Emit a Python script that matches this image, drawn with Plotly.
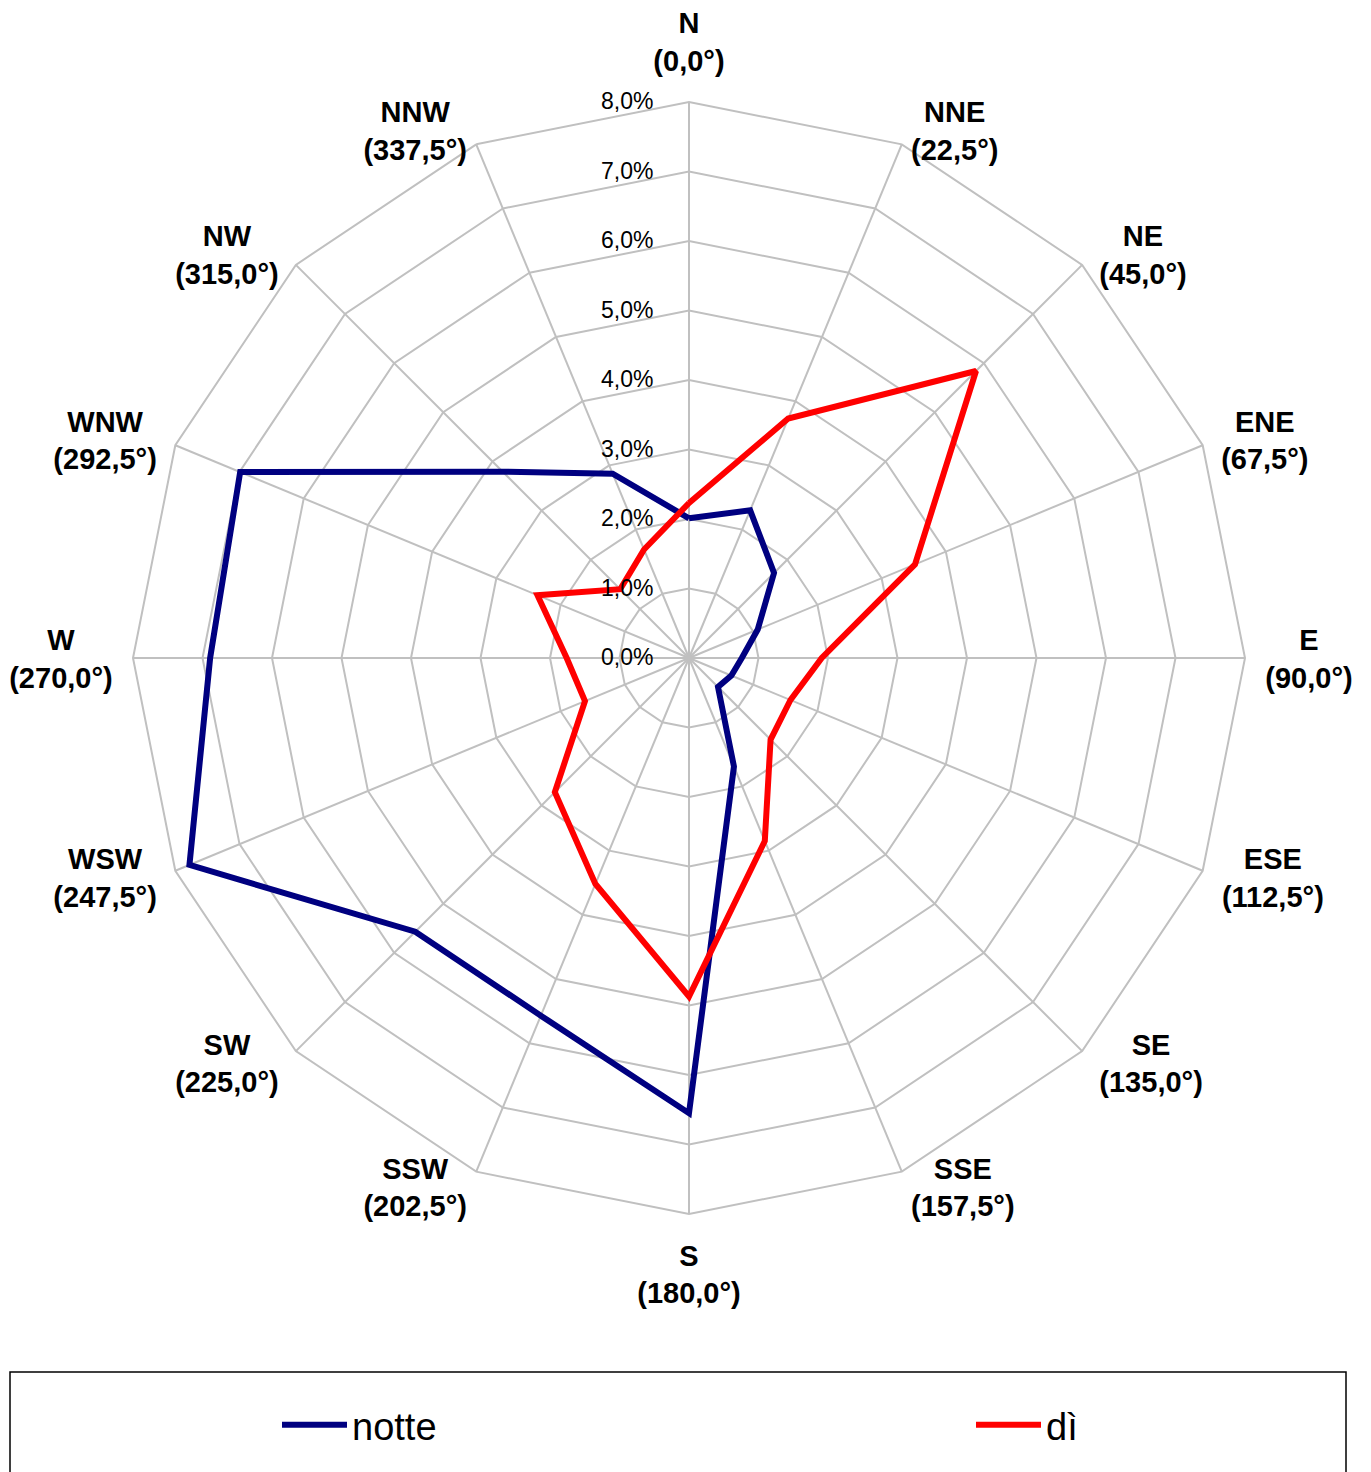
import math
import plotly.graph_objects as go

directions = ["N", "NNE", "NE", "ENE", "E", "ESE", "SE", "SSE",
              "S", "SSW", "SW", "WSW", "W", "WNW", "NW", "NNW"]
angles = [0.0, 22.5, 45.0, 67.5, 90.0, 112.5, 135.0, 157.5,
          180.0, 202.5, 225.0, 247.5, 270.0, 292.5, 315.0, 337.5]
notte = [2.01, 2.30, 1.73, 1.07, 0.76, 0.66, 0.59, 1.69,
         6.55, 5.57, 5.57, 7.78, 6.89, 6.99, 3.79, 2.87]
di = [2.23, 3.73, 5.84, 3.52, 1.91, 1.58, 1.66, 2.85,
      4.87, 3.52, 2.73, 1.62, 1.76, 2.36, 1.40, 1.69]
radial_ticks = [0, 1, 2, 3, 4, 5, 6, 7, 8]
radial_ticktext = ["0,0%", "1,0%", "2,0%", "3,0%", "4,0%", "5,0%", "6,0%", "7,0%", "8,0%"]

W, H = 1371, 1472
OFF = 8  # page body margin
cx, cy, R = 689 - OFF, 658 - OFF, 556
RMAX = 8.0
K = R / RMAX  # px per radial unit
RMAX2 = 9.3   # wider invisible polar holding the direction labels
R2 = K * RMAX2

LABEL_FS = 29
line2 = ["(%s°)" % ("%.1f" % a).replace(".", ",") for a in angles]
angle_text = ["<b>%s<br>%s</b>" % (d, l2) for d, l2 in zip(directions, line2)]

# approximate bold glyph widths (em) to centre the two-line labels next to each vertex
CW = {"N": 0.722, "E": 0.667, "S": 0.667, "W": 0.944, "(": 0.333, ")": 0.333,
      ",": 0.278, "°": 0.4}
def text_w(s):
    return sum(CW.get(ch, 0.556) for ch in s) * LABEL_FS

ANCHOR = 8.35
HALF_H_TOP, HALF_H_BOTTOM = 33.0, 39.0
lab_r, lab_t = [], []
for d, l2, a in zip(directions, line2, angles):
    s, c = math.sin(math.radians(a)), math.cos(math.radians(a))
    x, y = ANCHOR * s, ANCHOR * c
    if abs(s) < 0.01:
        y += (HALF_H_TOP if c > 0 else -HALF_H_BOTTOM) / K
    else:
        hw = max(text_w(d), text_w(l2)) / 2 - (4.0 if abs(s) > 0.9 else 0.0)
        x += math.copysign(hw / K, s)
        y -= (4.0 + 8.5 * c) / K
    lab_r.append(math.hypot(x, y))
    lab_t.append(math.degrees(math.atan2(x, y)) % 360)

fig = go.Figure()
fig.add_trace(go.Scatterpolar(r=notte + notte[:1], theta=directions + directions[:1], mode="lines",
                              name="notte", line=dict(color="#000080", width=6), legend="legend"))
fig.add_trace(go.Scatterpolar(r=di + di[:1], theta=directions + directions[:1], mode="lines",
                              name="dì", line=dict(color="#FF0000", width=6), legend="legend2"))
fig.add_trace(go.Scatterpolar(r=lab_r, theta=lab_t, mode="text", text=angle_text,
                              textposition="middle center", cliponaxis=False, showlegend=False,
                              hoverinfo="skip", subplot="polar2",
                              textfont=dict(size=LABEL_FS, color="black")))

leg_common = dict(xanchor="left", yanchor="middle", itemwidth=65,
                  font=dict(size=38, color="black"), bgcolor="rgba(0,0,0,0)", borderwidth=0)

fig.update_layout(
    width=W, height=H,
    margin=dict(l=0, r=0, t=0, b=0),
    paper_bgcolor="white",
    font=dict(family="Liberation Sans, Arial, sans-serif", color="black"),
    polar=dict(
        domain=dict(x=[(cx - R) / W, (cx + R) / W], y=[(H - cy - R) / H, (H - cy + R) / H]),
        bgcolor="white",
        gridshape="linear",
        radialaxis=dict(range=[0, RMAX], tickmode="array", tickvals=radial_ticks, ticktext=radial_ticktext,
                        angle=90, tickangle=90, side="counterclockwise",
                        showline=False, gridcolor="#C0C0C0", gridwidth=2,
                        ticks="outside", ticklen=27, tickcolor="rgba(0,0,0,0)",
                        tickfont=dict(size=23, color="black")),
        angularaxis=dict(rotation=90, direction="clockwise", type="category",
                         categoryorder="array", categoryarray=directions,
                         showticklabels=False, ticks="",
                         showline=True, linecolor="#C0C0C0", linewidth=2,
                         gridcolor="#C0C0C0", gridwidth=2),
    ),
    polar2=dict(
        domain=dict(x=[(cx - R2) / W, (cx + R2) / W], y=[(H - cy - R2) / H, (H - cy + R2) / H]),
        bgcolor="rgba(0,0,0,0)",
        radialaxis=dict(range=[0, RMAX2], visible=False, showgrid=False),
        angularaxis=dict(rotation=90, direction="clockwise", visible=False, showgrid=False),
    ),
    showlegend=True,
    legend=dict(x=(277 - OFF) / W, y=(H - 1425 + OFF) / H, **leg_common),
    legend2=dict(x=(971 - OFF) / W, y=(H - 1425 + OFF) / H, **leg_common),
    shapes=[dict(type="rect", xref="paper", yref="paper", x0=(10 - OFF) / W, x1=(1346 - OFF) / W,
                 y0=-0.01, y1=(H - 1372 + OFF) / H, line=dict(color="black", width=1.5))],
)

fig.write_html("out.html")
